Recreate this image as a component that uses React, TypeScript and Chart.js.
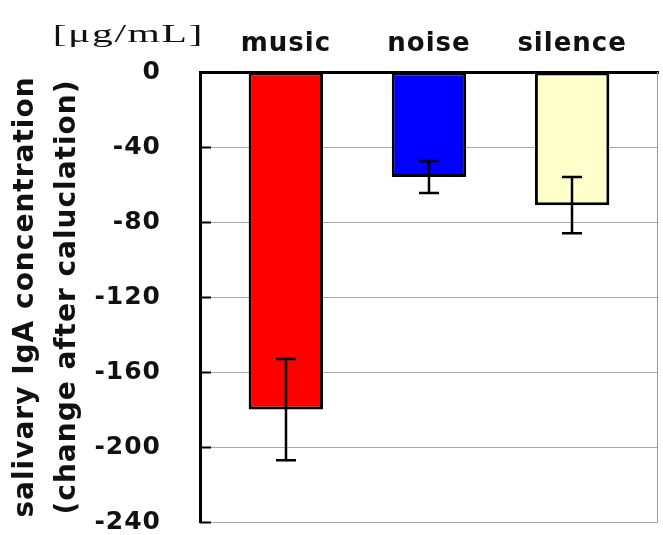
import React, { useEffect, useRef } from 'react';
import { Chart, registerables } from 'chart.js';

Chart.register(...registerables);

// ---- data ----
const categories = ['music', 'noise', 'silence'];
const means = [-180, -56, -71];
const errors = [27, 8.5, 15];
const barColors = ['#ff0000', '#0000ff', '#ffffcc'];
const yTicks = [0, -40, -80, -120, -160, -200, -240];
const unitLabel = '[μg/mL]';
const yTitle = ['salivary IgA concentration', '(change after caluclation)'];

const FONT = 'DejaVu Sans';
const TEXT = '#111111';

const decor = {
  id: 'decor',
  beforeLayout(chart: any) {
    chart.ctx.letterSpacing = '1px';
  },
  beforeDraw(chart: any) {
    chart.ctx.letterSpacing = '1px';
  },
  afterDatasetsDraw(chart: any) {
    const { ctx, chartArea, scales } = chart;
    const x = scales.x;
    const y = scales.y;
    ctx.save();
    // right frame line
    ctx.strokeStyle = '#9a9a9a';
    ctx.lineWidth = 1;
    ctx.beginPath();
    ctx.moveTo(chartArea.right - 0.5, chartArea.top);
    ctx.lineTo(chartArea.right - 0.5, chartArea.bottom);
    ctx.stroke();
    // inward tick stubs on the value axis
    ctx.strokeStyle = '#000';
    ctx.lineWidth = 2;
    yTicks.forEach((v) => {
      const py = Math.round(y.getPixelForValue(v)) + 0.5;
      ctx.beginPath();
      ctx.moveTo(chartArea.left, py);
      ctx.lineTo(chartArea.left + 11, py);
      ctx.stroke();
    });
    // error bars
    ctx.lineWidth = 2.5;
    means.forEach((m, i) => {
      const px = Math.round(x.getPixelForValue(i + 1));
      const y1 = y.getPixelForValue(m + errors[i]);
      const y2 = y.getPixelForValue(m - errors[i]);
      ctx.beginPath();
      ctx.moveTo(px, y1);
      ctx.lineTo(px, y2);
      ctx.moveTo(px - 10, y1);
      ctx.lineTo(px + 10, y1);
      ctx.moveTo(px - 10, y2);
      ctx.lineTo(px + 10, y2);
      ctx.stroke();
    });
    ctx.restore();
  },
  afterDraw(chart: any) {
    const { ctx, chartArea } = chart;
    ctx.save();
    ctx.letterSpacing = '1px';
    ctx.font = '26px "Liberation Serif"';
    ctx.fillStyle = TEXT;
    ctx.textAlign = 'right';
    ctx.textBaseline = 'alphabetic';
    ctx.translate(chartArea.left + 4, 42);
    ctx.scale(1.6, 1);
    ctx.fillText(unitLabel, 0, 0);
    ctx.restore();
  },
};

export default function App() {
  const ref = useRef<HTMLCanvasElement>(null);

  useEffect(() => {
    document.body.style.margin = '0';
    const canvas = ref.current;
    if (!canvas) return;
    const chart = new Chart(canvas, {
      type: 'bar',
      data: {
        datasets: [
          {
            data: categories.map((_, i) => ({ x: i + 1, y: means[i] })) as any,
            backgroundColor: barColors,
            borderColor: '#000000',
            borderWidth: 3,
            borderSkipped: false,
            barPercentage: 0.52,
            categoryPercentage: 1,
          },
        ],
      },
      options: {
        animation: false,
        responsive: false,
        events: [],
        layout: { padding: { left: 0, right: 5, top: 0, bottom: 13 } },
        plugins: {
          legend: { display: false },
          tooltip: { enabled: false },
          title: { display: false },
        },
        scales: {
          x: {
            type: 'linear',
            position: 'top',
            min: 0.4,
            max: 3.6,
            offset: false,
            afterBuildTicks: (s: any) => {
              s.ticks = categories.map((_, i) => ({ value: i + 1 }));
            },
            afterFit: (s: any) => {
              s.height = 72;
              s.paddingLeft = 0;
              s.paddingRight = 0;
            },
            grid: { display: false, drawTicks: false },
            border: { display: true, color: '#000000', width: 3 },
            ticks: {
              padding: 12,
              color: TEXT,
              autoSkip: false,
              maxRotation: 0,
              font: { family: FONT, size: 26, weight: 'bold', lineHeight: 1.2 },
              callback: (v: any) => categories[Math.round(Number(v)) - 1] ?? '',
            },
          },
          y: {
            type: 'linear',
            min: -240,
            max: 0,
            afterBuildTicks: (s: any) => {
              s.ticks = [...yTicks].sort((a, b) => a - b).map((v) => ({ value: v }));
            },
            afterFit: (s: any) => {
              s.width = 200;
              s.paddingTop = 0;
              s.paddingBottom = 0;
            },
            grid: { color: '#a8a8a8', lineWidth: 1, drawTicks: false },
            border: { display: true, color: '#000000', width: 3 },
            ticks: {
              padding: 39,
              color: TEXT,
              font: { family: FONT, size: 25, weight: 'bold', lineHeight: 1 },
            },
            title: {
              display: true,
              text: yTitle,
              color: TEXT,
              font: { family: FONT, size: 28, weight: 'bold', lineHeight: 1.5 },
              padding: { top: 5, bottom: 0 },
            },
          },
        },
      },
      plugins: [decor],
    });
    return () => chart.destroy();
  }, []);

  return (
    <canvas
      ref={ref}
      width={663}
      height={535}
      style={{ display: 'block', width: 663, height: 535 }}
    />
  );
}
